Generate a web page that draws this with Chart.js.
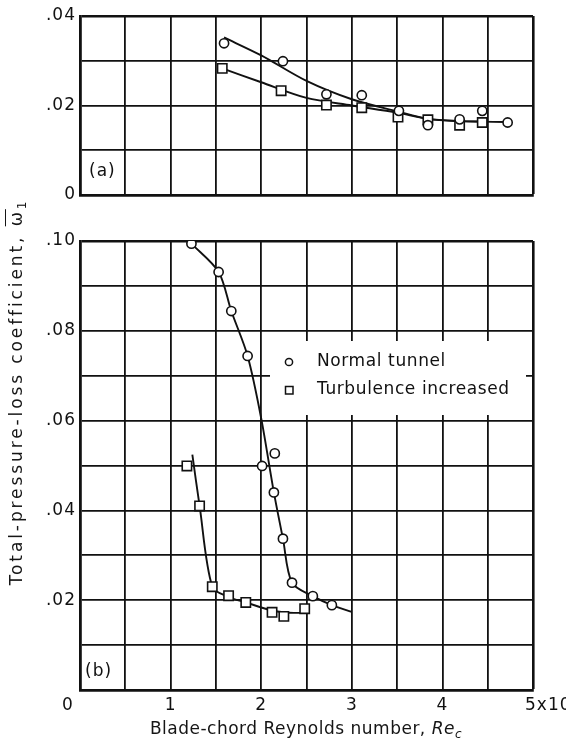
<!DOCTYPE html>
<html>
<head>
<meta charset="utf-8">
<script src="https://cdn.jsdelivr.net/npm/chart.js@4.4.1/dist/chart.umd.min.js"></script>
<style>
  body { margin: 0; background: #fff; }
  #wrap { position: relative; width: 566px; height: 747px; overflow: hidden; font-family: "DejaVu Sans", sans-serif; color: #151515; }
  #boxA { position: absolute; left: 0; top: 0; }
  #boxB { position: absolute; left: 0; top: 220px; }
  #ytitle { position: absolute; left: -204px; top: 380px; width: 440px; height: 24px; line-height: 24px;
            text-align: center; font-size: 17px; letter-spacing: 2.9px; transform: rotate(-90deg); white-space: nowrap; }
  #xtitle { position: absolute; left: 106px; top: 718px; width: 400px; text-align: center;
            font-size: 17px; letter-spacing: 0.5px; white-space: nowrap; }
  sub { font-size: 12px; vertical-align: -4px; }
</style>
</head>
<body>
<div id="wrap">
  <div id="boxA"><canvas id="chartA" width="566" height="215"></canvas></div>
  <div id="boxB"><canvas id="chartB" width="566" height="527"></canvas></div>
  <div id="ytitle">Total-pressure-loss coefficient, <span style="text-decoration: overline">ω</span><sub>1</sub></div>
  <div id="xtitle">Blade-chord Reynolds number, <i>Re</i><sub><i>c</i></sub></div>
</div>
<script>
// (a) measured points, Reynolds number in units of 10^5
const aNormalRe   = [1.59, 2.24, 2.72, 3.11, 3.52, 3.84, 4.19, 4.44, 4.72];
const aNormalLoss = [0.0339, 0.0299, 0.0225, 0.0223, 0.0188, 0.0156, 0.0169, 0.0188, 0.0162];
const aTurbRe     = [1.57, 2.22, 2.72, 3.11, 3.51, 3.84, 4.19, 4.44];
const aTurbLoss   = [0.0283, 0.0233, 0.0201, 0.0195, 0.0174, 0.0168, 0.0156, 0.0162];
// (a) faired curves
const aNormalFitRe   = [1.59, 2.0, 2.5, 3.0, 3.5, 3.84, 4.2, 4.72];
const aNormalFitLoss = [0.0352, 0.0312, 0.0255, 0.0214, 0.0187, 0.0170, 0.0165, 0.0163];
const aTurbFitRe     = [1.57, 2.0, 2.5, 3.0, 3.5, 3.84, 4.2, 4.44];
const aTurbFitLoss   = [0.0283, 0.0252, 0.0217, 0.0200, 0.0184, 0.0170, 0.0165, 0.0164];

// (b) measured points
const bNormalRe   = [1.23, 1.53, 1.67, 1.85, 2.01, 2.15, 2.14, 2.24, 2.34, 2.57, 2.78];
const bNormalLoss = [0.0994, 0.0931, 0.0844, 0.0744, 0.0499, 0.0527, 0.0440, 0.0337, 0.0239, 0.0209, 0.0189];
const bTurbRe     = [1.18, 1.32, 1.46, 1.64, 1.83, 2.12, 2.25, 2.48];
const bTurbLoss   = [0.0499, 0.0410, 0.0230, 0.0210, 0.0195, 0.0173, 0.0164, 0.0181];
// (b) faired curves
const bNormalFitRe   = [1.23, 1.53, 1.67, 1.85, 2.0, 2.14, 2.24, 2.34, 2.57, 2.78, 3.0];
const bNormalFitLoss = [0.0994, 0.0931, 0.0844, 0.0744, 0.0605, 0.0440, 0.0337, 0.0239, 0.0209, 0.0189, 0.0174];
const bTurbFitRe     = [1.24, 1.32, 1.46, 1.64, 1.83, 2.12, 2.3, 2.48];
const bTurbFitLoss   = [0.0524, 0.0410, 0.0230, 0.0207, 0.0195, 0.0177, 0.0172, 0.0172];

const xTickLabels = ['0', '1', '2', '3', '4', '5x10'];
const seriesNames = ['Normal tunnel', 'Turbulence increased'];

const ink = '#111';
const font = '"DejaVu Sans", sans-serif';

function pts(xs, ys) {
    return xs.map((x, i) => ({ x: x, y: ys[i] }));
}

function markers(label, xs, ys, style) {
    return {
        label: label,
        data: pts(xs, ys),
        pointStyle: style,
        pointRadius: style === 'rect' ? 6.6 : 4.6,
        backgroundColor: '#fff',
        borderColor: ink,
        borderWidth: 1.6,
        showLine: false
    };
}

function curve(xs, ys) {
    return {
        data: pts(xs, ys),
        showLine: true,
        pointRadius: 0,
        borderColor: ink,
        borderWidth: 1.9,
        fill: false,
        tension: 0.3
    };
}

// loss labels every .02, e.g. ".04"
function lossLabel(v, showZero) {
    const h = Math.round(v * 100);
    if (h % 2) return '';
    if (h === 0) return showZero ? '0' : '';
    return '.' + String(h).padStart(2, '0');
}

function gridWidth(max) {
    return c => (c.tick && Math.abs(c.tick.value - max) < 1e-9) ? 2.6 : 1.8;
}

function axes(yMax, showZero, xHeight) {
    return {
        x: {
            type: 'linear', min: 0, max: 5,
            ticks: { stepSize: 0.5, display: false },
            grid: { color: ink, lineWidth: gridWidth(5), drawTicks: false },
            border: { color: ink, width: 2.8 },
            afterFit: s => { s.height = xHeight; }
        },
        y: {
            min: 0, max: yMax,
            ticks: {
                stepSize: 0.01, color: ink, padding: 4,
                font: { family: font, size: 17 },
                callback: v => lossLabel(v, showZero)
            },
            grid: { color: ink, lineWidth: gridWidth(yMax), drawTicks: false },
            border: { color: ink, width: 2.8 },
            afterFit: s => { s.width = 80; }
        }
    };
}

// wide lettering for tick labels
const spacing = {
    id: 'spacing',
    beforeDraw(chart) { chart.ctx.letterSpacing = '1px'; }
};

function panelLabel(text, x, y) {
    return {
        id: 'panel' + text,
        afterDraw(chart) {
            const ctx = chart.ctx;
            ctx.save();
            ctx.letterSpacing = '1px';
            ctx.fillStyle = ink;
            ctx.font = '17px ' + font;
            ctx.textAlign = 'left';
            ctx.textBaseline = 'middle';
            ctx.fillText(text, x, y);
            ctx.restore();
        }
    };
}

// x labels under panel (b); the 0 and the exponent label sit off-centre
const xLabels = {
    id: 'xLabels',
    afterDraw(chart) {
        const ctx = chart.ctx, sx = chart.scales.x;
        ctx.save();
        ctx.letterSpacing = '1px';
        ctx.fillStyle = ink;
        ctx.font = '17px ' + font;
        ctx.textBaseline = 'middle';
        xTickLabels.forEach((t, i) => {
            let px = sx.getPixelForValue(i);
            ctx.textAlign = 'center';
            if (i === 0) px -= 12;
            if (i === xTickLabels.length - 1) { ctx.textAlign = 'left'; px -= 8; }
            ctx.fillText(t, px, chart.chartArea.bottom + 16);
        });
        ctx.restore();
    }
};

// key box inside panel (b)
const keyBox = {
    id: 'keyBox',
    afterDatasetsDraw(chart) {
        const ctx = chart.ctx;
        ctx.save();
        ctx.fillStyle = '#fff';
        ctx.fillRect(270, 121, 256, 74);
        ctx.strokeStyle = ink;
        ctx.lineWidth = 1.5;
        ctx.beginPath();
        ctx.arc(289, 142, 3.6, 0, Math.PI * 2);
        ctx.stroke();
        ctx.strokeRect(285.5, 166.5, 7.5, 7.5);
        ctx.fillStyle = ink;
        ctx.font = '17px ' + font;
        ctx.letterSpacing = '0.6px';
        ctx.textAlign = 'left';
        ctx.textBaseline = 'middle';
        ctx.fillText(seriesNames[0], 317, 142);
        ctx.fillText(seriesNames[1], 317, 170);
        ctx.restore();
    }
};

const common = {
    responsive: false,
    animation: false,
    plugins: { legend: { display: false }, tooltip: { enabled: false } }
};

new Chart(document.getElementById('chartA'), {
    type: 'scatter',
    data: {
        datasets: [
            markers(seriesNames[0], aNormalRe, aNormalLoss, 'circle'),
            markers(seriesNames[1], aTurbRe, aTurbLoss, 'rect'),
            curve(aNormalFitRe, aNormalFitLoss),
            curve(aTurbFitRe, aTurbFitLoss)
        ]
    },
    options: {
        ...common,
        layout: { padding: { top: 16, right: 33, bottom: 20, left: 0 } },
        scales: axes(0.04, true, 0)
    },
    plugins: [spacing, panelLabel('(a)', 89, 172)]
});

new Chart(document.getElementById('chartB'), {
    type: 'scatter',
    data: {
        datasets: [
            markers(seriesNames[0], bNormalRe, bNormalLoss, 'circle'),
            markers(seriesNames[1], bTurbRe, bTurbLoss, 'rect'),
            curve(bNormalFitRe, bNormalFitLoss),
            curve(bTurbFitRe, bTurbFitLoss)
        ]
    },
    options: {
        ...common,
        layout: { padding: { top: 21, right: 33, bottom: 0, left: 0 } },
        scales: axes(0.10, false, 57)
    },
    plugins: [spacing, keyBox, panelLabel('(b)', 85, 452), xLabels]
});
</script>
</body>
</html>
